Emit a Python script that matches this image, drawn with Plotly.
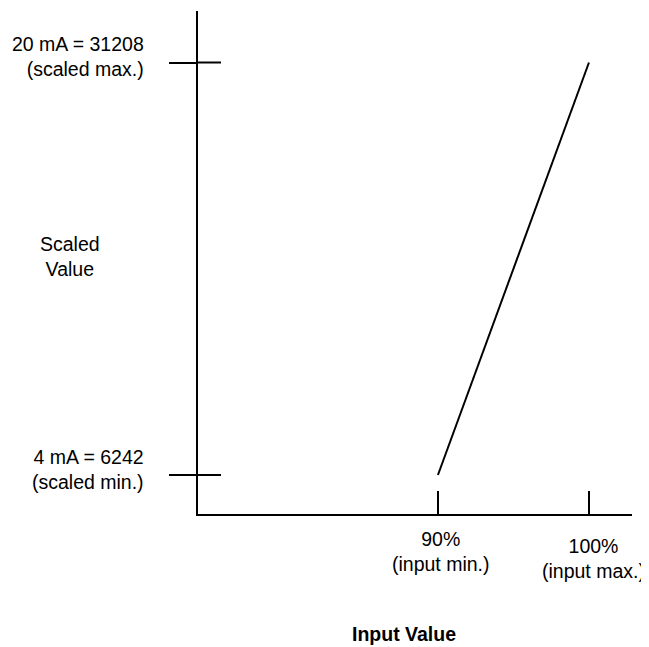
import plotly.graph_objects as go

# input percentage vs scaled value
input_pct = [90, 100]
scaled_val = [6242, 31208]

x_ticks = [90, 100]
x_labels = ["90%<br>(input min.)", "100%<br>(input max.)"]
y_ticks = [6242, 31208]
y_labels = ["4 mA = 6242<br>(scaled min.)", "20 mA = 31208<br>(scaled max.)"]

FONT = "Liberation Sans, Arial"
FS = 19.5
PAGE = 8  # default body margin of the html page
W, H = 649 - PAGE, 647 - PAGE
L, R, T, B = 198 - PAGE, 17, 11 - PAGE, 133
PW, PH = W - L - R, H - T - B


def px(x):
    # window pixel -> paper x
    return (x - PAGE - L) / PW


def py(y):
    # window pixel (from top) -> paper y
    return (H - (y - PAGE) - B) / PH


font = dict(size=FS, family=FONT, color="black")

fig = go.Figure()
fig.add_trace(go.Scatter(x=input_pct, y=scaled_val, mode="lines",
                         line=dict(color="black", width=2),
                         hoverinfo="skip", showlegend=False))

# inner half of the y ticks (they cross the axis)
for v in y_ticks:
    fig.add_shape(type="line", xref="x domain", yref="y",
                  x0=0, x1=23 / PW, y0=v, y1=v,
                  line=dict(color="black", width=2))

# y tick labels, right aligned
for v, txt in zip(y_ticks, y_labels):
    fig.add_annotation(x=px(146), xref="paper", y=v, yref="y", yshift=6,
                       text=txt, showarrow=False, align="right",
                       xanchor="right", yanchor="middle", font=font)

# x tick labels
for i, (v, txt) in enumerate(zip(x_ticks, x_labels)):
    fig.add_annotation(x=v, xref="x", y=py(526 + i * 7), yref="paper",
                       text=txt, showarrow=False, align="center",
                       xanchor="center", yanchor="top", xshift=3 + 2 * i, font=font)

fig.add_annotation(x=px(70), y=py(256), xref="paper", yref="paper", text="Scaled<br>Value",
                   showarrow=False, xanchor="center", yanchor="middle", font=font)
fig.add_annotation(x=px(404), y=py(634), xref="paper", yref="paper", text="<b>Input Value</b>",
                   showarrow=False, xanchor="center", yanchor="middle", font=font)

fig.update_xaxes(range=[74.11, 102.85], showline=True, linecolor="black", linewidth=2,
                 tickvals=x_ticks, ticks="inside", ticklen=23, tickwidth=2,
                 tickcolor="black", showticklabels=False, showgrid=False,
                 zeroline=False, fixedrange=True, automargin=False)
fig.update_yaxes(range=[3882, 34325], showline=True, linecolor="black", linewidth=2,
                 tickvals=y_ticks, ticks="outside", ticklen=27, tickwidth=2,
                 tickcolor="black", showticklabels=False,
                 showgrid=False, zeroline=False, fixedrange=True, automargin=False)

fig.update_layout(width=W, height=H, margin=dict(l=L, r=R, t=T, b=B),
                  plot_bgcolor="white", paper_bgcolor="white")

fig.write_html("out.html")
